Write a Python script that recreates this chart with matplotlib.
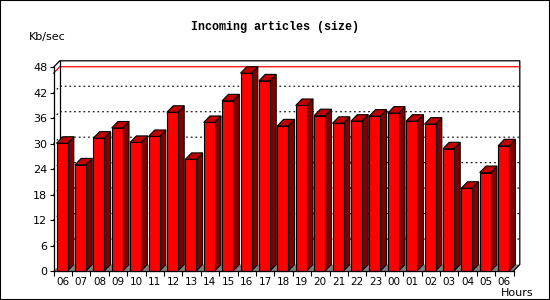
import numpy as np
import matplotlib.pyplot as plt
from matplotlib.patches import Polygon, Rectangle

# data
hours = ["06", "07", "08", "09", "10", "11", "12", "13", "14", "15", "16", "17",
         "18", "19", "20", "21", "22", "23", "00", "01", "02", "03", "04", "05", "06"]
kbsec = [30.1, 25.0, 31.3, 33.7, 30.3, 31.7, 37.4, 26.3, 35.0, 40.1, 46.6, 44.8,
         34.2, 39.0, 36.6, 34.8, 35.3, 36.5, 37.2, 35.3, 34.6, 28.8, 19.5, 23.2, 29.5]
y_ticks = list(range(0, 49, 6))

W_PX, H_PX = 550, 300
fig = plt.figure(figsize=(W_PX / 100, H_PX / 100), dpi=100)

# front plane of the pseudo-3D box, in pixels
left, right, top, bottom = 53.5, 513.5, 67.3, 271.0
ax = fig.add_axes([left / W_PX, (H_PX - bottom) / H_PX,
                   (right - left) / W_PX, (bottom - top) / H_PX])
n = len(hours)
ax.set_xlim(-0.5, n - 0.5)
ax.set_ylim(0, 48)
for s in ax.spines.values():
    s.set_visible(False)

# depth offset (pixels -> data units)
slot_px = (right - left) / n
unit_px = (bottom - top) / 48
dx = 6.3 / slot_px
dy = 6.5 / unit_px
x0, x1 = -0.5, n - 0.5

# floor
ax.add_patch(Polygon([(x0, 0), (x1, 0), (x1 + dx, dy), (x0 + dx, dy)],
                     closed=True, facecolor="#808080", edgecolor="none",
                     zorder=1, clip_on=False))

# dotted grid lines on the back wall
for v in y_ticks[1:-1]:
    ax.plot([x0, x0 + dx, x1 + dx], [v, v + dy, v + dy], color="black",
            lw=0.8, ls=(0, (1.6, 2.6)), zorder=1.5, clip_on=False)

# red line at maximum
m = max(kbsec)
ax.plot([x0, x0 + dx, x1 + dx], [m, m + dy, m + dy], color="red",
        lw=0.9, zorder=1.6, clip_on=False)

# back frame
ax.plot([x0 + dx, x0 + dx], [dy, 48 + dy], color="black", lw=0.9, zorder=1.7, clip_on=False)
ax.plot([x0, x0 + dx, x1 + dx, x1 + dx, x1], [48, 48 + dy, 48 + dy, dy, 0],
        color="black", lw=0.9, zorder=1.7, clip_on=False)

# bars
bar_off = 3.0 / slot_px
bar_w = 11.0 / slot_px
xs = np.arange(n) - 0.5 + bar_off
for i, (xb, v) in enumerate(zip(xs, kbsec)):
    z = 3 + i * 0.01
    ax.add_patch(Polygon([(xb + bar_w, 0), (xb + bar_w + dx, dy),
                          (xb + bar_w + dx, v + dy), (xb + bar_w, v)],
                         closed=True, facecolor="#800000", edgecolor="black",
                         lw=0.8, zorder=z, clip_on=False))
    ax.add_patch(Polygon([(xb, v), (xb + bar_w, v), (xb + bar_w + dx, v + dy),
                          (xb + dx, v + dy)],
                         closed=True, facecolor="#C00000", edgecolor="black",
                         lw=0.8, zorder=z, clip_on=False))
    ax.bar(xb, v, width=bar_w, align="edge", color="red", edgecolor="black",
           lw=0.8, zorder=z + 0.005, clip_on=False)

# front axes lines
ax.plot([x0, x0], [0, 48], color="black", lw=0.9, zorder=10, clip_on=False)
ax.plot([x0, x1], [0, 0], color="black", lw=0.9, zorder=10, clip_on=False)

# ticks
ax.set_yticks(y_ticks)
ax.set_yticklabels([str(t) for t in y_ticks])
ax.tick_params(axis="y", length=3, width=0.8, pad=1.5, labelsize=8)
ax.set_xticks(np.arange(n))
ax.set_xticklabels(hours)
ax.set_xticks(np.arange(n + 1) - 0.5, minor=True)
ax.tick_params(axis="x", which="major", length=0, pad=4.5, labelsize=7.5)
ax.tick_params(axis="x", which="minor", length=3.5, width=0.8)

fig.text(275 / W_PX, 1 - 26.7 / H_PX, "Incoming articles (size)",
         ha="center", va="center", fontsize=8.5, fontweight="bold",
         family="Liberation Mono")
fig.text(29 / W_PX, 1 - 37 / H_PX, "Kb/sec", ha="left", va="center", fontsize=8)
fig.text(534 / W_PX, 1 - 292.5 / H_PX, "Hours", ha="right", va="center", fontsize=8)

fig.add_artist(Rectangle((0, 0), 1, 1, transform=fig.transFigure, fill=False,
                         edgecolor="black", lw=1.5))

fig.savefig("out.png", dpi=100)
